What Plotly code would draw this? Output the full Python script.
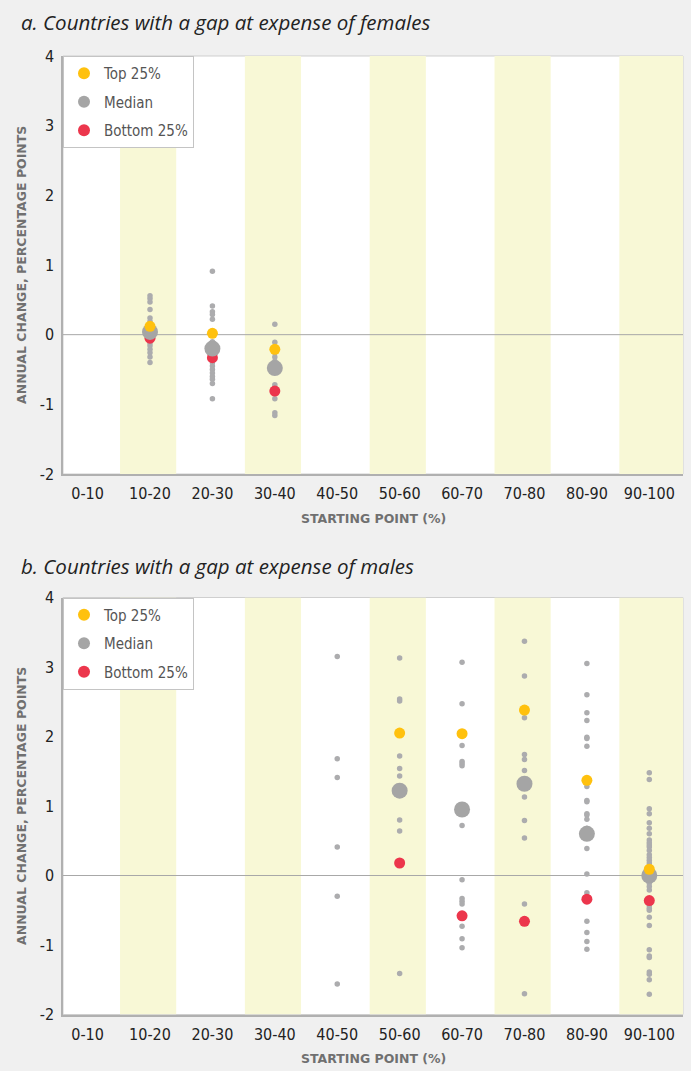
import plotly.graph_objects as go

# ---------------------------------------------------------------------------
# Data
# ---------------------------------------------------------------------------
CATEGORIES = ["0-10", "10-20", "20-30", "30-40", "40-50",
              "50-60", "60-70", "70-80", "80-90", "90-100"]
SHADED = ["10-20", "30-40", "50-60", "70-80", "90-100"]
Y_TICKS = [4, 3, 2, 1, 0, -1, -2]
Y_TICK_TEXT = ["4", "3", "2", "1", "0", "-1", "-2"]

# a. Countries with a gap at expense of females: individual countries
A_DOTS_10_20 = [0.56, 0.52, 0.47, 0.36, 0.24, 0.19, 0.14, 0.08, 0.04, 0.00,
                -0.04, -0.08, -0.12, -0.16, -0.21, -0.26, -0.32, -0.40]
A_DOTS_20_30 = [0.91, 0.41, 0.33, 0.29, 0.22, -0.10, -0.15, -0.40, -0.45,
                -0.50, -0.55, -0.60, -0.64, -0.70, -0.92]
A_DOTS_30_40 = [0.15, -0.11, -0.18, -0.26, -0.32, -0.38, -0.72, -0.76,
                -0.92, -1.12, -1.16]
# a. summary statistics
A_SUMMARY_CATS = ["10-20", "20-30", "30-40"]
A_TOP = [0.12, 0.02, -0.21]
A_MEDIAN = [0.04, -0.20, -0.48]
A_BOTTOM = [-0.05, -0.33, -0.81]

# b. Countries with a gap at expense of males: individual countries
B_DOTS_40_50 = [3.15, 1.68, 1.41, 0.41, -0.30, -1.56]
B_DOTS_50_60 = [3.13, 2.54, 2.51, 1.72, 1.54, 1.43, 1.17, 0.80, 0.64, -1.41]
B_DOTS_60_70 = [3.07, 2.47, 1.87, 1.64, 1.61, 1.58, 0.72, -0.06, -0.33,
                -0.37, -0.41, -0.73, -0.91, -1.04]
B_DOTS_70_80 = [3.37, 2.87, 2.27, 1.74, 1.67, 1.51, 1.13, 0.79, 0.54,
                -0.41, -1.70]
B_DOTS_80_90 = [3.05, 2.60, 2.34, 2.23, 1.99, 1.97, 1.86, 1.28, 1.08, 1.06,
                0.89, 0.87, 0.81, 0.68, 0.39, 0.02, -0.25, -0.66, -0.82,
                -0.95, -1.06]
B_DOTS_90_100 = [1.48, 1.38, 0.96, 0.89, 0.76, 0.68, 0.60, 0.51, 0.47, 0.44,
                 0.41, 0.36, 0.30, 0.26, 0.22, 0.18, 0.14, 0.10, 0.05, -0.05,
                 -0.11, -0.16, -0.21, -0.43, -0.47, -0.50, -0.60, -0.72,
                 -1.07, -1.16, -1.18, -1.39, -1.42, -1.50, -1.71]
# b. summary statistics
B_SUMMARY_CATS = ["50-60", "60-70", "70-80", "80-90", "90-100"]
B_TOP = [2.05, 2.04, 2.38, 1.37, 0.09]
B_MEDIAN = [1.22, 0.95, 1.32, 0.60, 0.00]
B_BOTTOM = [0.18, -0.58, -0.66, -0.34, -0.36]

# ---------------------------------------------------------------------------
# Styling
# ---------------------------------------------------------------------------
W, H = 691, 1071
PAPER = "#f0f0f0"
BAND = "#f8f8d6"
DOT = "#acacae"
MEDIAN = "#a5a5a5"
TOP = "#ffc10e"
BOTTOM = "#ec364c"
AXIS = "#b0b0b0"
BORDER = "#cfcfcf"
TICK_FONT = dict(family="DejaVu Sans Condensed, Liberation Sans Narrow, sans-serif",
                 size=16, color="#222222")
LEGEND_FONT = dict(family="DejaVu Sans Condensed, Liberation Sans Narrow, sans-serif",
                   size=15, color="#555555")
LABEL_FONT = dict(family="DejaVu Sans, sans-serif", size=12.5,
                  color="#707070", weight="bold")
TITLE_FONT = dict(family="Open Sans, sans-serif", size=20.5,
                  color="#222222", style="italic")

X_DOMAIN = [63 / W, 683 / W]
X_RANGE = [-0.394, 9.54]
Y_RANGE = [-2, 4]
PANELS = [
    # (x axis, y axis, legend, top px, bottom px)
    ("x", "y", "legend", 56, 474),
    ("x2", "y2", "legend2", 597.5, 1014.5),
]


def px_y(py):
    return 1 - py / H


fig = go.Figure()


def add_panel(xa, ya, legend, dots, summary_cats, top, med, bot):
    # register every category so all ticks appear
    fig.add_trace(go.Scatter(x=CATEGORIES, y=[None] * len(CATEGORIES),
                             mode="markers", xaxis=xa, yaxis=ya,
                             showlegend=False, hoverinfo="skip"))
    xs, ys = [], []
    for cat, vals in dots:
        xs += [cat] * len(vals)
        ys += vals
    fig.add_trace(go.Scatter(x=xs, y=ys, mode="markers", xaxis=xa, yaxis=ya,
                             marker=dict(size=5.5, color=DOT),
                             showlegend=False, hoverinfo="skip"))
    specs = [
        ("Bottom 25%", bot, BOTTOM, 11, 3),
        ("Median", med, MEDIAN, 16, 2),
        ("Top 25%", top, TOP, 11, 1),
    ]
    for name, vals, color, size, rank in specs:
        fig.add_trace(go.Scatter(x=summary_cats, y=vals, mode="markers",
                                 name=name, xaxis=xa, yaxis=ya,
                                 legend=legend, legendgroup=legend + name,
                                 legendrank=rank,
                                 marker=dict(size=size, color=color)))


add_panel("x", "y", "legend",
          [("10-20", A_DOTS_10_20), ("20-30", A_DOTS_20_30),
           ("30-40", A_DOTS_30_40)],
          A_SUMMARY_CATS, A_TOP, A_MEDIAN, A_BOTTOM)
add_panel("x2", "y2", "legend2",
          [("40-50", B_DOTS_40_50), ("50-60", B_DOTS_50_60),
           ("60-70", B_DOTS_60_70), ("70-80", B_DOTS_70_80),
           ("80-90", B_DOTS_80_90), ("90-100", B_DOTS_90_100)],
          B_SUMMARY_CATS, B_TOP, B_MEDIAN, B_BOTTOM)

shapes = []
annotations = []
layout_axes = {}
titles = ["a. Countries with a gap at expense of females",
          "b. Countries with a gap at expense of males"]
title_px = [22, 566]

for i, (xa, ya, legend, top_px, bot_px) in enumerate(PANELS):
    xname = "xaxis" if xa == "x" else "xaxis2"
    yname = "yaxis" if ya == "y" else "yaxis2"
    layout_axes[xname] = dict(
        type="category", categoryorder="array", categoryarray=CATEGORIES,
        range=X_RANGE, domain=X_DOMAIN, anchor=ya,
        showgrid=False, zeroline=False, showline=True, linecolor=AXIS,
        linewidth=2, ticks="", tickfont=TICK_FONT, ticklabelstandoff=4,
        fixedrange=True,
    )
    layout_axes[yname] = dict(
        range=Y_RANGE, domain=[px_y(bot_px), px_y(top_px)], anchor=xa,
        tickvals=Y_TICKS, ticktext=Y_TICK_TEXT,
        showgrid=False, zeroline=False, showline=True, linecolor=AXIS,
        linewidth=1.5, ticks="", tickfont=TICK_FONT, ticklabelstandoff=4,
        fixedrange=True,
    )
    # alternating shaded columns (the last one runs to the plot edge)
    for cat in SHADED:
        idx = CATEGORIES.index(cat)
        x1 = X_RANGE[1] if idx == len(CATEGORIES) - 1 else idx + 0.42
        shapes.append(dict(type="rect", xref=xa, yref=ya,
                           x0=idx - 0.48, x1=x1, y0=Y_RANGE[0], y1=Y_RANGE[1],
                           fillcolor=BAND, line=dict(width=0), layer="below"))
    # zero reference line, drawn over the shaded columns
    shapes.append(dict(type="line", xref=xa, yref=ya,
                       x0=X_RANGE[0], x1=X_RANGE[1], y0=0, y1=0,
                       line=dict(color="#a8a8a8", width=1), layer="below"))
    # light frame around plot area
    shapes.append(dict(type="rect", xref=xa + " domain", yref=ya + " domain",
                       x0=0, x1=1, y0=0, y1=1,
                       line=dict(color=BORDER, width=1), layer="below"))
    # panel title
    annotations.append(dict(text=titles[i], xref="paper", yref="paper",
                            x=19 / W, y=px_y(title_px[i]), xanchor="left",
                            yanchor="middle", showarrow=False,
                            font=TITLE_FONT))
    # axis titles
    annotations.append(dict(text="ANNUAL CHANGE, PERCENTAGE POINTS",
                            xref="paper", yref="paper", x=21 / W,
                            y=px_y((top_px + bot_px) / 2), textangle=-90,
                            xanchor="center", yanchor="middle",
                            showarrow=False, font=LABEL_FONT))
    annotations.append(dict(text="STARTING POINT (%)", xref="paper",
                            yref="paper", x=(X_DOMAIN[0] + X_DOMAIN[1]) / 2,
                            y=px_y(bot_px + 44), xanchor="center",
                            yanchor="middle", showarrow=False,
                            font=LABEL_FONT))

legend_style = dict(xanchor="left", yanchor="top", bgcolor="white",
                    bordercolor="#c4c4c4", borderwidth=1, font=LEGEND_FONT,
                    itemsizing="constant", traceorder="grouped",
                    tracegroupgap=6)

fig.update_layout(
    width=W, height=H,
    margin=dict(l=0, r=0, t=0, b=0, autoexpand=False),
    paper_bgcolor=PAPER, plot_bgcolor="white",
    shapes=shapes, annotations=annotations,
    legend=dict(x=X_DOMAIN[0], y=px_y(PANELS[0][3]), **legend_style),
    legend2=dict(x=X_DOMAIN[0], y=px_y(PANELS[1][3]), **legend_style),
    hovermode=False,
    **layout_axes,
)

fig.write_html("out.html", config={"displayModeBar": False})
